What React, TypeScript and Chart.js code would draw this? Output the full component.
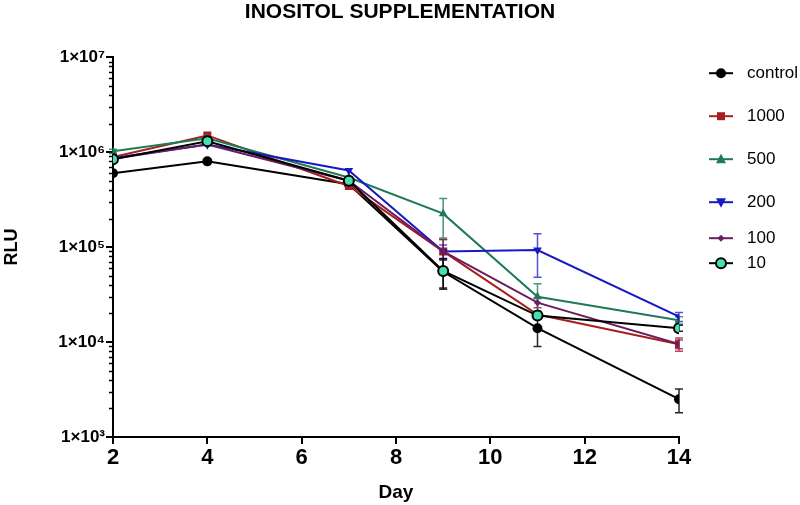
import React, { useEffect, useRef } from 'react';
import { Chart, registerables } from 'chart.js';

Chart.register(...registerables);

// ---- data ----
const days = [2, 4, 7, 9, 11, 14];
const seriesNames = ['control', '1000', '500', '200', '100', '10'];

const controlValues = [6.0e5, 8.0e5, 4.6e5, 5.5e4, 1.4e4, 2.5e3];
const controlErr = [0, 0, 0, 1.8e4, 5e3, 7e2];

const s1000Values = [8.9e5, 1.5e6, 4.4e5, 9.0e4, 1.95e4, 9.5e3];
const s1000Err = [0, 0, 0, 3e4, 0, 1.5e3];

const s500Values = [1.02e6, 1.4e6, 5.4e5, 2.25e5, 3.0e4, 1.7e4];
const s500Err = [5e4, 0, 0, 1e5, 1.1e4, 1.5e3];

const s200Values = [8.7e5, 1.2e6, 6.4e5, 9.0e4, 9.3e4, 1.85e4];
const s200Err = [0, 0, 0, 1.5e4, 4.5e4, 2e3];

const s100Values = [8.5e5, 1.2e6, 5.0e5, 9.0e4, 2.6e4, 9.5e3];
const s100Err = [0, 0, 0, 3e4, 3e3, 1e3];

const s10Values = [8.4e5, 1.3e6, 5.0e5, 5.6e4, 1.9e4, 1.4e4];
const s10Err = [0, 0, 0, 2e4, 0, 1e3];

const yTickValues = [1e3, 1e4, 1e5, 1e6, 1e7];
const xTickStep = 2;

// ---- styles ----
const FONT = '"Liberation Sans", Arial, sans-serif';
const styles = [
  { line: '#000000', fill: '#000000', shape: 'circle', r: 5, err: 'rgba(0,0,0,0.85)' },
  { line: '#A81E1E', fill: '#A81E1E', shape: 'rect', r: 4, err: 'rgba(168,30,30,0.8)' },
  { line: '#1E7A58', fill: '#1E7A58', shape: 'triangle', r: 5, err: 'rgba(30,122,88,0.8)' },
  { line: '#1818C4', fill: '#1818C4', shape: 'triangleDown', r: 5, err: 'rgba(24,24,196,0.75)' },
  { line: '#6A1E5E', fill: '#6A1E5E', shape: 'diamond', r: 3.5, err: 'rgba(106,30,94,0.75)' },
  { line: '#000000', fill: '#44E0AE', shape: 'circle', r: 5, err: 'rgba(0,0,0,0.85)' },
];
const legendOffsets = [16, 59, 102, 145, 181, 206];

const allValues = [controlValues, s1000Values, s500Values, s200Values, s100Values, s10Values];
const allErrs = [controlErr, s1000Err, s500Err, s200Err, s100Err, s10Err];

const SUP: Record<string, string> = {
  '0': '⁰', '1': '¹', '2': '²', '3': '³', '4': '⁴', '5': '⁵', '6': '⁶', '7': '⁷', '8': '⁸', '9': '⁹',
};

function drawMarker(ctx: CanvasRenderingContext2D, shape: string, x: number, y: number, r: number, fill: string, stroke: string, bw: number) {
  ctx.beginPath();
  if (shape === 'circle') {
    ctx.arc(x, y, r, 0, Math.PI * 2);
  } else if (shape === 'rect') {
    ctx.rect(x - r, y - r, 2 * r, 2 * r);
  } else if (shape === 'triangle') {
    ctx.moveTo(x, y - r * 1.1);
    ctx.lineTo(x + r, y + r * 0.8);
    ctx.lineTo(x - r, y + r * 0.8);
    ctx.closePath();
  } else if (shape === 'triangleDown') {
    ctx.moveTo(x, y + r * 1.1);
    ctx.lineTo(x + r, y - r * 0.8);
    ctx.lineTo(x - r, y - r * 0.8);
    ctx.closePath();
  } else if (shape === 'diamond') {
    ctx.moveTo(x, y - r);
    ctx.lineTo(x + r, y);
    ctx.lineTo(x, y + r);
    ctx.lineTo(x - r, y);
    ctx.closePath();
  }
  ctx.fillStyle = fill;
  ctx.fill();
  if (bw > 0) {
    ctx.lineWidth = bw;
    ctx.strokeStyle = stroke;
    ctx.stroke();
  }
}

const errorBarPlugin = {
  id: 'errorBars',
  beforeDatasetsDraw(chart: any) {
    const ctx = chart.ctx;
    const xs = chart.scales.x;
    const ys = chart.scales.y;
    allValues.forEach((vals, i) => {
      const errs = allErrs[i];
      ctx.save();
      ctx.strokeStyle = styles[i].err;
      ctx.lineWidth = 1.5;
      vals.forEach((v, j) => {
        const e = errs[j];
        if (!e) return;
        const px = xs.getPixelForValue(days[j]);
        const yTop = ys.getPixelForValue(v + e);
        const yBot = ys.getPixelForValue(Math.max(v - e, 1));
        ctx.beginPath();
        ctx.moveTo(px, yTop);
        ctx.lineTo(px, yBot);
        ctx.moveTo(px - 4, yTop);
        ctx.lineTo(px + 4, yTop);
        ctx.moveTo(px - 4, yBot);
        ctx.lineTo(px + 4, yBot);
        ctx.stroke();
      });
      ctx.restore();
    });
  },
};

const minorTickPlugin = {
  id: 'minorTicks',
  afterDraw(chart: any) {
    const ctx = chart.ctx;
    const ys = chart.scales.y;
    const left = chart.chartArea.left;
    ctx.save();
    ctx.strokeStyle = '#000';
    ctx.lineWidth = 1.5;
    for (let n = 3; n < 7; n++) {
      for (let m = 2; m <= 9; m++) {
        const py = Math.round(ys.getPixelForValue(m * Math.pow(10, n))) + 0.5;
        ctx.beginPath();
        ctx.moveTo(left - 4, py);
        ctx.lineTo(left, py);
        ctx.stroke();
      }
    }
    ctx.restore();
  },
};

const legendPlugin = {
  id: 'customLegend',
  afterDraw(chart: any) {
    const ctx = chart.ctx;
    const { right, top } = chart.chartArea;
    const x0 = right + 30;
    ctx.save();
    seriesNames.forEach((name, i) => {
      const st = styles[i];
      const y = top + legendOffsets[i];
      ctx.strokeStyle = st.line;
      ctx.lineWidth = 2;
      ctx.beginPath();
      ctx.moveTo(x0, y);
      ctx.lineTo(x0 + 24, y);
      ctx.stroke();
      drawMarker(ctx, st.shape, x0 + 12, y, st.r, st.fill, st.line, i === 5 ? 2 : 0);
      ctx.fillStyle = '#000';
      ctx.font = `17px ${FONT}`;
      ctx.textBaseline = 'middle';
      ctx.textAlign = 'left';
      ctx.fillText(name, x0 + 38, y);
    });
    ctx.restore();
  },
};

export default function App() {
  const ref = useRef<HTMLCanvasElement | null>(null);

  useEffect(() => {
    if (!ref.current) return;
    const datasets = seriesNames.map((name, i) => {
      const st = styles[i];
      return {
        label: name,
        data: days.map((d, j) => ({ x: d, y: allValues[i][j] })),
        borderColor: st.line,
        backgroundColor: st.fill,
        borderWidth: 2,
        pointStyle: st.shape === 'triangleDown' ? 'triangle' : st.shape === 'diamond' ? 'rectRot' : st.shape,
        rotation: st.shape === 'triangleDown' ? 180 : 0,
        pointRadius: st.shape === 'rect' ? st.r * 1.41 : st.r,
        pointBorderWidth: i === 5 ? 2 : 0,
        pointBorderColor: st.line,
        pointBackgroundColor: st.fill,
        tension: 0,
        order: 6 - i,
        yAxisID: 'y',
      };
    });

    const chart = new Chart(ref.current, {
      type: 'line',
      data: { datasets },
      plugins: [errorBarPlugin, minorTickPlugin, legendPlugin],
      options: {
        animation: false,
        responsive: false,
        devicePixelRatio: 1,
        layout: { padding: { left: 0, right: 0, top: 0, bottom: 0 } },
        plugins: {
          legend: { display: false },
          tooltip: { enabled: false },
          title: {
            display: true,
            text: 'INOSITOL SUPPLEMENTATION',
            color: '#000',
            font: { family: FONT, size: 21, weight: 'bold' },
            padding: { top: 0, bottom: 32 },
          },
        },
        scales: {
          x: {
            type: 'linear',
            min: 2,
            max: 14,
            afterFit: (s: any) => { s.height = 68; },
            ticks: {
              stepSize: xTickStep,
              color: '#000',
              font: { family: FONT, size: 22, weight: 'bold' },
              padding: 1,
              maxRotation: 0,
            },
            grid: { drawOnChartArea: false, drawTicks: true, tickLength: 7, color: '#000', lineWidth: 2 },
            border: { display: true, color: '#000', width: 2 },
            title: {
              display: true,
              text: 'Day',
              color: '#000',
              font: { family: FONT, size: 19, weight: 'bold' },
              padding: { top: 1, bottom: 1 },
            },
          },
          y: {
            type: 'logarithmic',
            position: 'left',
            min: 1e3,
            max: 1e7,
            afterFit: (s: any) => { s.width = 113; },
            afterBuildTicks: (s: any) => { s.ticks = yTickValues.map((v) => ({ value: v, major: true })); },
            ticks: {
              color: '#000',
              font: { family: FONT, size: 17, weight: 'bold' },
              padding: 1,
              callback: (v: any) => {
                const e = Math.round(Math.log10(Number(v)));
                return '1×10' + String(e).split('').map((c) => SUP[c]).join('');
              },
            },
            grid: { drawOnChartArea: false, drawTicks: true, tickLength: 7, color: '#000', lineWidth: 2 },
            border: { display: true, color: '#000', width: 2 },
            title: {
              display: true,
              text: 'RLU',
              color: '#000',
              font: { family: FONT, size: 18, weight: 'bold' },
              padding: { top: 1, bottom: 0 },
            },
          },
          legendSpace: {
            type: 'linear',
            position: 'right',
            display: true,
            afterFit: (s: any) => { s.width = 121; },
            ticks: { display: false },
            grid: { display: false },
            border: { display: false },
          },
        },
      },
    } as any);

    return () => chart.destroy();
  }, []);

  return (
    <div style={{ position: 'absolute', left: 0, top: 0, width: 800, height: 505 }}>
      <canvas ref={ref} width={800} height={505} />
    </div>
  );
}
